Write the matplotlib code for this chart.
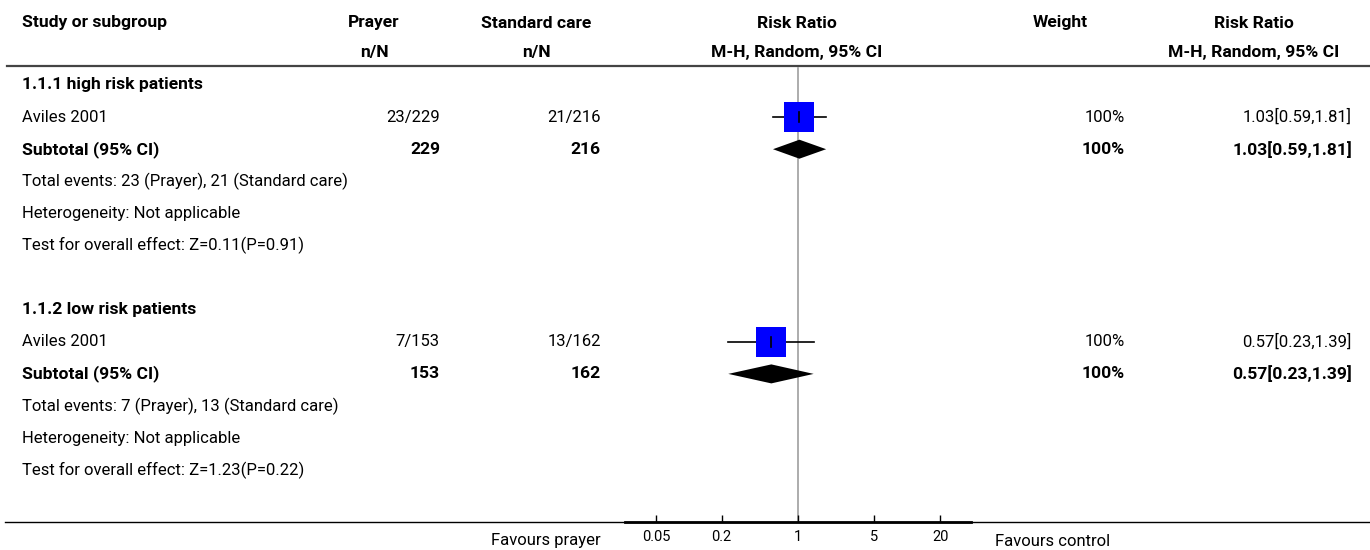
import matplotlib
matplotlib.use("Agg")
import matplotlib.pyplot as plt
import numpy as np

plt.rcParams["font.family"] = ["Roboto", "DejaVu Sans"]

# subgroup data
groups = ["1.1.1 high risk patients", "1.1.2 low risk patients"]
studies = ["Aviles 2001", "Aviles 2001"]
prayer_events = [23, 7]
prayer_total = [229, 153]
care_events = [21, 13]
care_total = [216, 162]
rr = [1.03, 0.57]
rr_lo = [0.59, 0.23]
rr_hi = [1.81, 1.39]
weights = [100, 100]
z_vals = [0.11, 1.23]
p_vals = [0.91, 0.22]
ticks = [0.05, 0.2, 1, 5, 20]
tick_labels = ["0.05", "0.2", "1", "5", "20"]

W, H = 1370, 550
FS = 12
FSB = 12.6
fig = plt.figure(figsize=(W / 100, H / 100), dpi=100)

# text layer in pixel coordinates
tab = fig.add_axes([0, 0, 1, 1])
tab.set_xlim(0, W)
tab.set_ylim(H, 0)
tab.axis("off")

# forest panel
px0, px1, py0, py1 = 625, 971, 66, 522
ax = fig.add_axes([px0 / W, 1 - py1 / H, (px1 - px0) / W, (py1 - py0) / H])
ax.set_xscale("log")
ax.set_xlim(10 ** -1.584, 10 ** 1.584)
ax.set_ylim(py1, py0)
ax.patch.set_alpha(0)
for s in ["top", "left", "right"]:
    ax.spines[s].set_visible(False)
ax.spines["bottom"].set_linewidth(2)
ax.set_yticks([])
ax.set_xticks(ticks)
ax.set_xticklabels(tick_labels)
ax.xaxis.set_minor_locator(matplotlib.ticker.NullLocator())
ax.tick_params(axis="x", direction="in", length=5, width=1, pad=6, labelsize=10.5)
ax.axvline(1, ymin=0, ymax=0.995, color="#a6a6a6", lw=1.3, zorder=0)

# column anchors
c_study = 22
c_pray_h, c_pray = 374, 440
c_care_h, c_care = 536, 601
c_rr_h = 797
c_w_h, c_w = 1060, 1125
c_rr2_h, c_rr2 = 1254, 1352

hdr = dict(fontsize=FSB, fontweight="bold", va="center")
tab.text(c_study, 23, "Study or subgroup", ha="left", **hdr)
tab.text(c_pray_h, 23, "Prayer", ha="center", **hdr)
tab.text(c_pray_h, 53, "n/N", ha="center", **hdr)
tab.text(c_care_h, 23, "Standard care", ha="center", **hdr)
tab.text(c_care_h, 53, "n/N", ha="center", **hdr)
tab.text(c_rr_h, 23, "Risk Ratio", ha="center", **hdr)
tab.text(c_rr_h, 53, "M-H, Random, 95% CI", ha="center", **hdr)
tab.text(c_w_h, 23, "Weight", ha="center", **hdr)
tab.text(c_rr2_h, 23, "Risk Ratio", ha="center", **hdr)
tab.text(c_rr2_h, 53, "M-H, Random, 95% CI", ha="center", **hdr)

tab.plot([7, W], [66, 66], color="#444444", lw=1.6)
tab.plot([5, W], [522, 522], color="black", lw=1)

y0, dy = 85, 32.1
for g in range(len(groups)):
    base = g * 7
    ys = [y0 + dy * (base + k) for k in range(6)]
    ci = f"{rr[g]:.2f}[{rr_lo[g]:.2f},{rr_hi[g]:.2f}]"

    tab.text(c_study, ys[0], groups[g], ha="left", va="center", fontsize=FSB, fontweight="bold")

    # study row
    tab.text(c_study, ys[1], studies[g], ha="left", va="center", fontsize=FS)
    tab.text(c_pray, ys[1], f"{prayer_events[g]}/{prayer_total[g]}", ha="right", va="center", fontsize=FS)
    tab.text(c_care, ys[1], f"{care_events[g]}/{care_total[g]}", ha="right", va="center", fontsize=FS)
    tab.text(c_w, ys[1], f"{weights[g]}%", ha="right", va="center", fontsize=FS)
    tab.text(c_rr2, ys[1], ci, ha="right", va="center", fontsize=FS)
    ax.plot([rr_lo[g], rr_hi[g]], [ys[1], ys[1]], color="black", lw=1.2, zorder=2)
    ax.plot(rr[g], ys[1], marker="s", markersize=22.3 * np.sqrt(weights[g] / 100),
            color="#0000ff", markeredgewidth=0, zorder=3)
    ax.plot([rr[g], rr[g]], [ys[1] - 5, ys[1] + 5], color="black", lw=1.2, zorder=4)

    # subtotal row
    b = dict(ha="right", va="center", fontsize=FSB, fontweight="bold")
    tab.text(c_study, ys[2], "Subtotal (95% CI)", ha="left", va="center", fontsize=FSB, fontweight="bold")
    tab.text(c_pray, ys[2], f"{prayer_total[g]}", **b)
    tab.text(c_care, ys[2], f"{care_total[g]}", **b)
    tab.text(c_w, ys[2], f"{weights[g]}%", **b)
    tab.text(c_rr2, ys[2], ci, **b)
    ax.fill([rr_lo[g], rr[g], rr_hi[g], rr[g]],
            [ys[2], ys[2] - 9.5, ys[2], ys[2] + 9.5], color="black", lw=0, zorder=3)

    tab.text(c_study, ys[3], f"Total events: {prayer_events[g]} (Prayer), {care_events[g]} (Standard care)",
             ha="left", va="center", fontsize=FS)
    tab.text(c_study, ys[4], "Heterogeneity: Not applicable", ha="left", va="center", fontsize=FS)
    tab.text(c_study, ys[5], f"Test for overall effect: Z={z_vals[g]:.2f}(P={p_vals[g]:.2f})",
             ha="left", va="center", fontsize=FS)

tab.text(601, 541, "Favours prayer", ha="right", va="center", fontsize=FS)
tab.text(995, 541, "Favours control", ha="left", va="center", fontsize=FS)

fig.savefig("out.png", dpi=100)
